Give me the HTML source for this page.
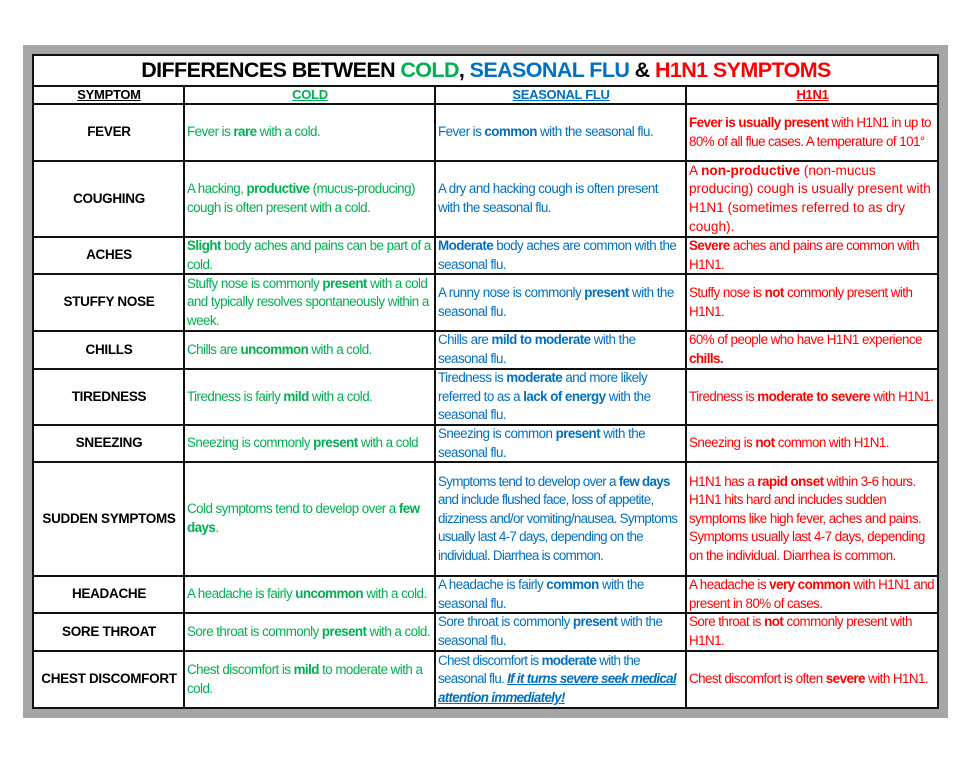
<!DOCTYPE html>
<html><head><meta charset="utf-8"><style>
body{margin:0;width:980px;height:757px;background:#fff;position:relative;font-family:"Liberation Sans",Arial,sans-serif;}
.frame{position:absolute;left:23px;top:45px;width:925px;height:673px;background:#a6a6a6;}
.grid{position:absolute;left:32px;top:54px;width:907px;display:grid;background:#111;padding:2px;gap:2px;box-sizing:border-box;
grid-template-columns:149px 249px 249px 250px;
grid-template-rows:29px 16px 55px 74px 35px 55px 36px 54px 35px 112px 35px 36px 55px;}
.grid>div{background:#fff;display:flex;align-items:center;font-size:13.4px;line-height:18.6px;padding:0 1px 0 2px;overflow:hidden;letter-spacing:-0.55px;}
.t{grid-column:1/5;justify-content:center;font-weight:bold;font-size:21.5px!important;letter-spacing:-0.6px!important;}
.h{justify-content:center;font-weight:bold;text-decoration:underline;font-size:13px!important;letter-spacing:-0.3px!important;}
.s{justify-content:center;font-weight:bold;font-size:13.5px!important;text-align:center;letter-spacing:-0.3px!important;}
.g{color:#00b050}.b{color:#0070c0}.r{color:#ff0000}
.c{letter-spacing:0px!important;font-size:13.6px!important;}
.n{letter-spacing:-0.7px!important;}
</style></head><body>
<div class="frame"></div>
<div class="grid">
<div class="t"><span>DIFFERENCES BETWEEN <span class="g">COLD</span>, <span class="b">SEASONAL FLU</span> &amp; <span class="r">H1N1 SYMPTOMS</span></span></div>
<div class="h">SYMPTOM</div><div class="h g">COLD</div><div class="h b">SEASONAL FLU</div><div class="h r">H1N1</div>

<div class="s">FEVER</div>
<div class="g"><span>Fever is <b>rare</b> with a cold.</span></div>
<div class="b"><span>Fever is <b>common</b> with the seasonal flu.</span></div>
<div class="r"><span><b>Fever is usually present</b> with H1N1 in up to 80% of all flue cases. A temperature of 101°</span></div>

<div class="s">COUGHING</div>
<div class="g"><span>A hacking, <b>productive</b> (mucus-producing) cough is often present with a cold.</span></div>
<div class="b"><span>A dry and hacking cough is often present<br>with the seasonal flu.</span></div>
<div class="r c"><span>A <b>non-productive</b> (non-mucus producing) cough is usually present with H1N1 (sometimes referred to as dry cough).</span></div>

<div class="s">ACHES</div>
<div class="g"><span><b>Slight</b> body aches and pains can be part of a cold.</span></div>
<div class="b"><span><b>Moderate</b> body aches are common with the seasonal flu.</span></div>
<div class="r"><span><b>Severe</b> aches and pains are common with H1N1.</span></div>

<div class="s">STUFFY NOSE</div>
<div class="g"><span>Stuffy nose is commonly <b>present</b> with a cold and typically resolves spontaneously within a week.</span></div>
<div class="b"><span>A runny nose is commonly <b>present</b> with the seasonal flu.</span></div>
<div class="r"><span>Stuffy nose is <b>not</b> commonly present with H1N1.</span></div>

<div class="s">CHILLS</div>
<div class="g"><span>Chills are <b>uncommon</b> with a cold.</span></div>
<div class="b"><span>Chills are <b>mild to moderate</b> with the seasonal flu.</span></div>
<div class="r"><span>60% of people who have H1N1 experience <b>chills.</b></span></div>

<div class="s">TIREDNESS</div>
<div class="g"><span>Tiredness is fairly <b>mild</b> with a cold.</span></div>
<div class="b"><span>Tiredness is <b>moderate</b> and more likely referred to as a <b>lack of energy</b> with the seasonal flu.</span></div>
<div class="r"><span>Tiredness is <b>moderate to severe</b> with H1N1.</span></div>

<div class="s">SNEEZING</div>
<div class="g"><span>Sneezing is commonly <b>present</b> with a cold</span></div>
<div class="b"><span>Sneezing is common <b>present</b> with the seasonal flu.</span></div>
<div class="r"><span>Sneezing is <b>not</b> common with H1N1.</span></div>

<div class="s">SUDDEN SYMPTOMS</div>
<div class="g"><span>Cold symptoms tend to develop over a <b>few days</b>.</span></div>
<div class="b n"><span>Symptoms tend to develop over a <b>few days</b> and include flushed face, loss of appetite, dizziness and/or vomiting/nausea. Symptoms usually last 4-7 days, depending on the individual. Diarrhea is common.</span></div>
<div class="r"><span>H1N1 has a <b>rapid onset</b> within 3-6 hours. H1N1 hits hard and includes sudden symptoms like high fever, aches and pains. Symptoms usually last 4-7 days, depending on the individual. Diarrhea is common.</span></div>

<div class="s">HEADACHE</div>
<div class="g"><span>A headache is fairly <b>uncommon</b> with a cold.</span></div>
<div class="b"><span>A headache is fairly <b>common</b> with the seasonal flu.</span></div>
<div class="r"><span>A headache is <b>very common</b> with H1N1 and present in 80% of cases.</span></div>

<div class="s">SORE THROAT</div>
<div class="g"><span>Sore throat is commonly <b>present</b> with a cold.</span></div>
<div class="b"><span>Sore throat is commonly <b>present</b> with the seasonal flu.</span></div>
<div class="r"><span>Sore throat is <b>not</b> commonly present with H1N1.</span></div>

<div class="s">CHEST DISCOMFORT</div>
<div class="g"><span>Chest discomfort is <b>mild</b> to moderate with a cold.</span></div>
<div class="b n"><span>Chest discomfort is <b>moderate</b> with the seasonal flu. <b><i><u>If it turns severe seek medical attention immediately!</u></i></b></span></div>
<div class="r"><span>Chest discomfort is often <b>severe</b> with H1N1.</span></div>
</div>
</body></html>
